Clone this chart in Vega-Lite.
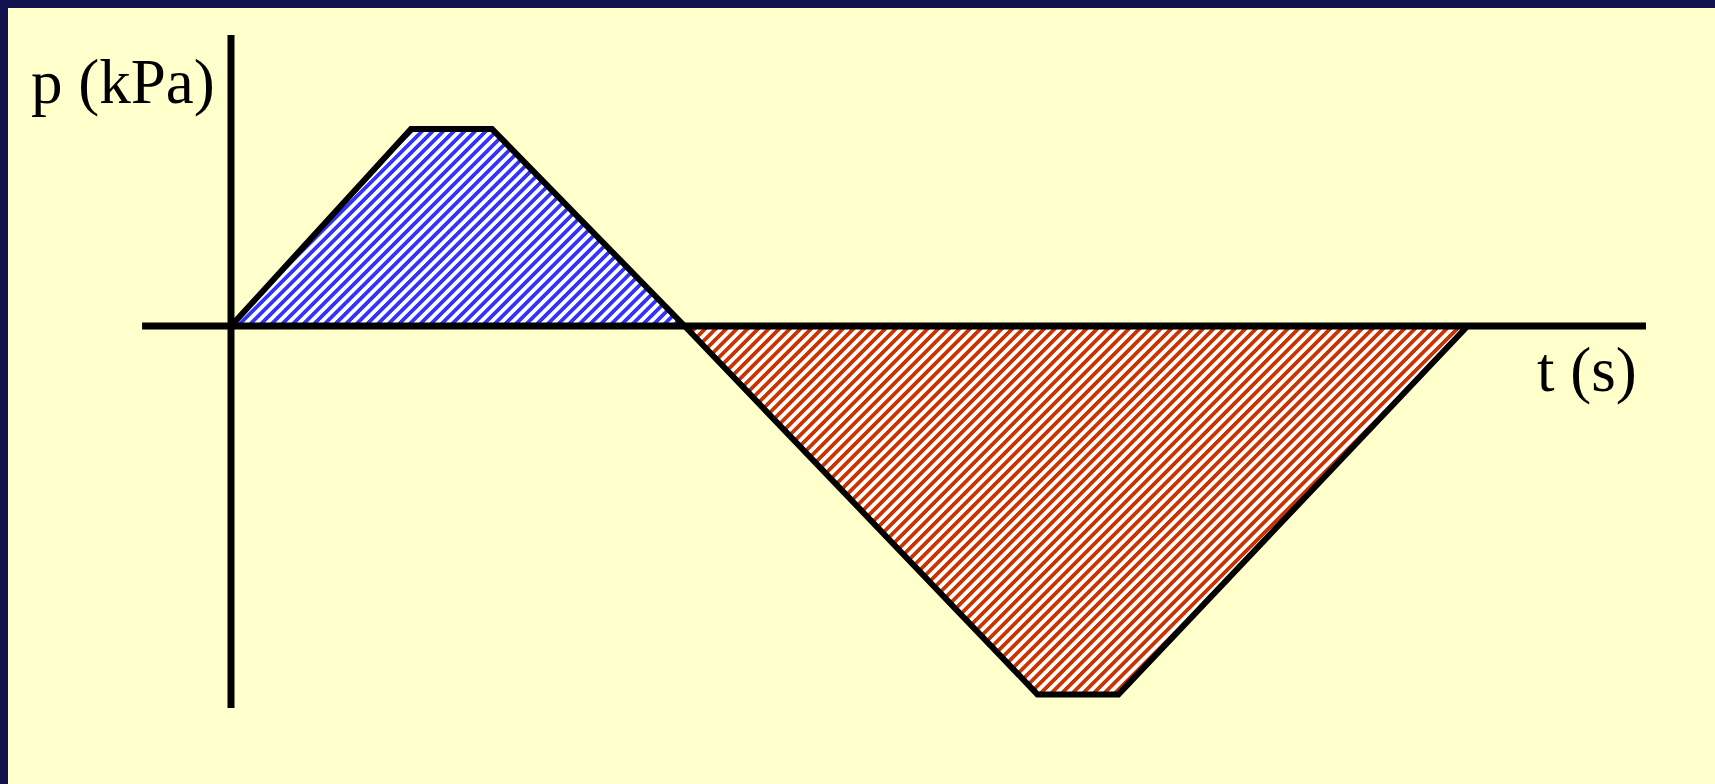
{
  "$schema": "https://vega.github.io/schema/vega-lite/v6.json",
  "autosize": {"type": "fit", "contains": "padding"},
  "width": 1715,
  "height": 784,
  "padding": {"left": 8, "top": 8, "right": 0, "bottom": 0},
  "background": "#12124f",
  "config": {"view": {"stroke": null, "fill": "#ffffcc"}},
  "datasets": {
    "blue": [
      {"t": 0, "p": 0}, {"t": 1, "p": 100}, {"t": 1.45, "p": 100}, {"t": 2.52, "p": 0}
    ],
    "red": [
      {"t": 2.52, "p": 0}, {"t": 4.48, "p": -187}, {"t": 4.93, "p": -187}, {"t": 6.87, "p": 0}
    ],
    "outline": [
      {"t": 0, "p": 0}, {"t": 1, "p": 100}, {"t": 1.45, "p": 100}, {"t": 2.52, "p": 0},
      {"t": 4.48, "p": -187}, {"t": 4.93, "p": -187}, {"t": 6.87, "p": 0}
    ],
    "axes": [
      {"t1": 0, "t2": 0, "p1": 147.7, "p2": -193.9},
      {"t1": -0.494, "t2": 7.861, "p1": 0, "p2": 0}
    ],
    "labels": [
      {"t": -1.111, "p": 113.2, "label": "p (kPa)"},
      {"t": 7.256, "p": -33, "label": "t (s)"}
    ]
  },
  "encoding": {
    "x": {"field": "t", "type": "quantitative", "scale": {"domain": [-1.2389, 8.2444], "nice": false, "zero": false}, "axis": null},
    "y": {"field": "p", "type": "quantitative", "scale": {"domain": [-232.49, 161.42], "nice": false, "zero": false}, "axis": null}
  },
  "layer": [
    {
      "data": {"name": "blue"},
      "mark": {"type": "area", "strokeWidth": 0, "fill": {"gradient": "linear", "x1": 0, "y1": 0, "x2": 3.9381, "y2": 1.7126, "stops": [
{"offset":0,"color":"#33f"},{"offset":0.002,"color":"#33f"},{"offset":0.0025,"color":"#fff"},{"offset":0.0045,"color":"#fff"},{"offset":0.005,"color":"#33f"},{"offset":0.007,"color":"#33f"},{"offset":0.0075,"color":"#fff"},{"offset":0.0095,"color":"#fff"},
{"offset":0.01,"color":"#33f"},{"offset":0.012,"color":"#33f"},{"offset":0.0125,"color":"#fff"},{"offset":0.0145,"color":"#fff"},{"offset":0.015,"color":"#33f"},{"offset":0.017,"color":"#33f"},{"offset":0.0175,"color":"#fff"},{"offset":0.0195,"color":"#fff"},
{"offset":0.02,"color":"#33f"},{"offset":0.022,"color":"#33f"},{"offset":0.0225,"color":"#fff"},{"offset":0.0245,"color":"#fff"},{"offset":0.025,"color":"#33f"},{"offset":0.027,"color":"#33f"},{"offset":0.0275,"color":"#fff"},{"offset":0.0295,"color":"#fff"},
{"offset":0.03,"color":"#33f"},{"offset":0.032,"color":"#33f"},{"offset":0.0325,"color":"#fff"},{"offset":0.0345,"color":"#fff"},{"offset":0.035,"color":"#33f"},{"offset":0.037,"color":"#33f"},{"offset":0.0375,"color":"#fff"},{"offset":0.0395,"color":"#fff"},
{"offset":0.04,"color":"#33f"},{"offset":0.042,"color":"#33f"},{"offset":0.0425,"color":"#fff"},{"offset":0.0445,"color":"#fff"},{"offset":0.045,"color":"#33f"},{"offset":0.047,"color":"#33f"},{"offset":0.0475,"color":"#fff"},{"offset":0.0495,"color":"#fff"},
{"offset":0.05,"color":"#33f"},{"offset":0.052,"color":"#33f"},{"offset":0.0525,"color":"#fff"},{"offset":0.0545,"color":"#fff"},{"offset":0.055,"color":"#33f"},{"offset":0.057,"color":"#33f"},{"offset":0.0575,"color":"#fff"},{"offset":0.0595,"color":"#fff"},
{"offset":0.06,"color":"#33f"},{"offset":0.062,"color":"#33f"},{"offset":0.0625,"color":"#fff"},{"offset":0.0645,"color":"#fff"},{"offset":0.065,"color":"#33f"},{"offset":0.067,"color":"#33f"},{"offset":0.0675,"color":"#fff"},{"offset":0.0695,"color":"#fff"},
{"offset":0.07,"color":"#33f"},{"offset":0.072,"color":"#33f"},{"offset":0.0725,"color":"#fff"},{"offset":0.0745,"color":"#fff"},{"offset":0.075,"color":"#33f"},{"offset":0.077,"color":"#33f"},{"offset":0.0775,"color":"#fff"},{"offset":0.0795,"color":"#fff"},
{"offset":0.08,"color":"#33f"},{"offset":0.082,"color":"#33f"},{"offset":0.0825,"color":"#fff"},{"offset":0.0845,"color":"#fff"},{"offset":0.085,"color":"#33f"},{"offset":0.087,"color":"#33f"},{"offset":0.0875,"color":"#fff"},{"offset":0.0895,"color":"#fff"},
{"offset":0.09,"color":"#33f"},{"offset":0.092,"color":"#33f"},{"offset":0.0925,"color":"#fff"},{"offset":0.0945,"color":"#fff"},{"offset":0.095,"color":"#33f"},{"offset":0.097,"color":"#33f"},{"offset":0.0975,"color":"#fff"},{"offset":0.0995,"color":"#fff"},
{"offset":0.1,"color":"#33f"},{"offset":0.102,"color":"#33f"},{"offset":0.1025,"color":"#fff"},{"offset":0.1045,"color":"#fff"},{"offset":0.105,"color":"#33f"},{"offset":0.107,"color":"#33f"},{"offset":0.1075,"color":"#fff"},{"offset":0.1095,"color":"#fff"},
{"offset":0.11,"color":"#33f"},{"offset":0.112,"color":"#33f"},{"offset":0.1125,"color":"#fff"},{"offset":0.1145,"color":"#fff"},{"offset":0.115,"color":"#33f"},{"offset":0.117,"color":"#33f"},{"offset":0.1175,"color":"#fff"},{"offset":0.1195,"color":"#fff"},
{"offset":0.12,"color":"#33f"},{"offset":0.122,"color":"#33f"},{"offset":0.1225,"color":"#fff"},{"offset":0.1245,"color":"#fff"},{"offset":0.125,"color":"#33f"},{"offset":0.127,"color":"#33f"},{"offset":0.1275,"color":"#fff"},{"offset":0.1295,"color":"#fff"},
{"offset":0.13,"color":"#33f"},{"offset":0.132,"color":"#33f"},{"offset":0.1325,"color":"#fff"},{"offset":0.1345,"color":"#fff"},{"offset":0.135,"color":"#33f"},{"offset":0.137,"color":"#33f"},{"offset":0.1375,"color":"#fff"},{"offset":0.1395,"color":"#fff"},
{"offset":0.14,"color":"#33f"},{"offset":0.142,"color":"#33f"},{"offset":0.1425,"color":"#fff"},{"offset":0.1445,"color":"#fff"},{"offset":0.145,"color":"#33f"},{"offset":0.147,"color":"#33f"},{"offset":0.1475,"color":"#fff"},{"offset":0.1495,"color":"#fff"},
{"offset":0.15,"color":"#33f"},{"offset":0.152,"color":"#33f"},{"offset":0.1525,"color":"#fff"},{"offset":0.1545,"color":"#fff"},{"offset":0.155,"color":"#33f"},{"offset":0.157,"color":"#33f"},{"offset":0.1575,"color":"#fff"},{"offset":0.1595,"color":"#fff"},
{"offset":0.16,"color":"#33f"},{"offset":0.162,"color":"#33f"},{"offset":0.1625,"color":"#fff"},{"offset":0.1645,"color":"#fff"},{"offset":0.165,"color":"#33f"},{"offset":0.167,"color":"#33f"},{"offset":0.1675,"color":"#fff"},{"offset":0.1695,"color":"#fff"},
{"offset":0.17,"color":"#33f"},{"offset":0.172,"color":"#33f"},{"offset":0.1725,"color":"#fff"},{"offset":0.1745,"color":"#fff"},{"offset":0.175,"color":"#33f"},{"offset":0.177,"color":"#33f"},{"offset":0.1775,"color":"#fff"},{"offset":0.1795,"color":"#fff"},
{"offset":0.18,"color":"#33f"},{"offset":0.182,"color":"#33f"},{"offset":0.1825,"color":"#fff"},{"offset":0.1845,"color":"#fff"},{"offset":0.185,"color":"#33f"},{"offset":0.187,"color":"#33f"},{"offset":0.1875,"color":"#fff"},{"offset":0.1895,"color":"#fff"},
{"offset":0.19,"color":"#33f"},{"offset":0.192,"color":"#33f"},{"offset":0.1925,"color":"#fff"},{"offset":0.1945,"color":"#fff"},{"offset":0.195,"color":"#33f"},{"offset":0.197,"color":"#33f"},{"offset":0.1975,"color":"#fff"},{"offset":0.1995,"color":"#fff"},
{"offset":0.2,"color":"#33f"},{"offset":0.202,"color":"#33f"},{"offset":0.2025,"color":"#fff"},{"offset":0.2045,"color":"#fff"},{"offset":0.205,"color":"#33f"},{"offset":0.207,"color":"#33f"},{"offset":0.2075,"color":"#fff"},{"offset":0.2095,"color":"#fff"},
{"offset":0.21,"color":"#33f"},{"offset":0.212,"color":"#33f"},{"offset":0.2125,"color":"#fff"},{"offset":0.2145,"color":"#fff"},{"offset":0.215,"color":"#33f"},{"offset":0.217,"color":"#33f"},{"offset":0.2175,"color":"#fff"},{"offset":0.2195,"color":"#fff"},
{"offset":0.22,"color":"#33f"},{"offset":0.222,"color":"#33f"},{"offset":0.2225,"color":"#fff"},{"offset":0.2245,"color":"#fff"},{"offset":0.225,"color":"#33f"},{"offset":0.227,"color":"#33f"},{"offset":0.2275,"color":"#fff"},{"offset":0.2295,"color":"#fff"},
{"offset":0.23,"color":"#33f"},{"offset":0.232,"color":"#33f"},{"offset":0.2325,"color":"#fff"},{"offset":0.2345,"color":"#fff"},{"offset":0.235,"color":"#33f"},{"offset":0.237,"color":"#33f"},{"offset":0.2375,"color":"#fff"},{"offset":0.2395,"color":"#fff"},
{"offset":0.24,"color":"#33f"},{"offset":0.242,"color":"#33f"},{"offset":0.2425,"color":"#fff"},{"offset":0.2445,"color":"#fff"},{"offset":0.245,"color":"#33f"},{"offset":0.247,"color":"#33f"},{"offset":0.2475,"color":"#fff"},{"offset":0.2495,"color":"#fff"},
{"offset":0.25,"color":"#33f"},{"offset":0.252,"color":"#33f"},{"offset":0.2525,"color":"#fff"},{"offset":0.2545,"color":"#fff"},{"offset":0.255,"color":"#33f"},{"offset":0.257,"color":"#33f"},{"offset":0.2575,"color":"#fff"},{"offset":0.2595,"color":"#fff"},
{"offset":0.26,"color":"#33f"},{"offset":0.262,"color":"#33f"},{"offset":0.2625,"color":"#fff"},{"offset":0.2645,"color":"#fff"},{"offset":0.265,"color":"#33f"},{"offset":0.267,"color":"#33f"},{"offset":0.2675,"color":"#fff"},{"offset":0.2695,"color":"#fff"},
{"offset":0.27,"color":"#33f"},{"offset":0.272,"color":"#33f"},{"offset":0.2725,"color":"#fff"},{"offset":0.2745,"color":"#fff"},{"offset":0.275,"color":"#33f"},{"offset":0.277,"color":"#33f"},{"offset":0.2775,"color":"#fff"},{"offset":0.2795,"color":"#fff"},
{"offset":0.28,"color":"#33f"},{"offset":0.282,"color":"#33f"},{"offset":0.2825,"color":"#fff"},{"offset":0.2845,"color":"#fff"},{"offset":0.285,"color":"#33f"},{"offset":0.287,"color":"#33f"},{"offset":0.2875,"color":"#fff"},{"offset":0.2895,"color":"#fff"},
{"offset":0.29,"color":"#33f"},{"offset":0.292,"color":"#33f"},{"offset":0.2925,"color":"#fff"},{"offset":0.2945,"color":"#fff"},{"offset":0.295,"color":"#33f"},{"offset":0.297,"color":"#33f"},{"offset":0.2975,"color":"#fff"},{"offset":0.2995,"color":"#fff"},
{"offset":0.3,"color":"#33f"},{"offset":0.302,"color":"#33f"},{"offset":0.3025,"color":"#fff"},{"offset":0.3045,"color":"#fff"},{"offset":0.305,"color":"#33f"},{"offset":0.307,"color":"#33f"},{"offset":0.3075,"color":"#fff"},{"offset":0.3095,"color":"#fff"},
{"offset":0.31,"color":"#33f"}
      ]}},
      "encoding": {"y2": {"datum": 0}}
    },
    {
      "data": {"name": "red"},
      "mark": {"type": "area", "strokeWidth": 0, "fill": {"gradient": "linear", "x1": 0, "y1": 0, "x2": 2.2172, "y2": 1.0407, "stops": [
{"offset":0,"color":"#c30"},{"offset":0.002,"color":"#c30"},{"offset":0.0025,"color":"#fff"},{"offset":0.0045,"color":"#fff"},{"offset":0.005,"color":"#c30"},{"offset":0.007,"color":"#c30"},{"offset":0.0075,"color":"#fff"},{"offset":0.0095,"color":"#fff"},
{"offset":0.01,"color":"#c30"},{"offset":0.012,"color":"#c30"},{"offset":0.0125,"color":"#fff"},{"offset":0.0145,"color":"#fff"},{"offset":0.015,"color":"#c30"},{"offset":0.017,"color":"#c30"},{"offset":0.0175,"color":"#fff"},{"offset":0.0195,"color":"#fff"},
{"offset":0.02,"color":"#c30"},{"offset":0.022,"color":"#c30"},{"offset":0.0225,"color":"#fff"},{"offset":0.0245,"color":"#fff"},{"offset":0.025,"color":"#c30"},{"offset":0.027,"color":"#c30"},{"offset":0.0275,"color":"#fff"},{"offset":0.0295,"color":"#fff"},
{"offset":0.03,"color":"#c30"},{"offset":0.032,"color":"#c30"},{"offset":0.0325,"color":"#fff"},{"offset":0.0345,"color":"#fff"},{"offset":0.035,"color":"#c30"},{"offset":0.037,"color":"#c30"},{"offset":0.0375,"color":"#fff"},{"offset":0.0395,"color":"#fff"},
{"offset":0.04,"color":"#c30"},{"offset":0.042,"color":"#c30"},{"offset":0.0425,"color":"#fff"},{"offset":0.0445,"color":"#fff"},{"offset":0.045,"color":"#c30"},{"offset":0.047,"color":"#c30"},{"offset":0.0475,"color":"#fff"},{"offset":0.0495,"color":"#fff"},
{"offset":0.05,"color":"#c30"},{"offset":0.052,"color":"#c30"},{"offset":0.0525,"color":"#fff"},{"offset":0.0545,"color":"#fff"},{"offset":0.055,"color":"#c30"},{"offset":0.057,"color":"#c30"},{"offset":0.0575,"color":"#fff"},{"offset":0.0595,"color":"#fff"},
{"offset":0.06,"color":"#c30"},{"offset":0.062,"color":"#c30"},{"offset":0.0625,"color":"#fff"},{"offset":0.0645,"color":"#fff"},{"offset":0.065,"color":"#c30"},{"offset":0.067,"color":"#c30"},{"offset":0.0675,"color":"#fff"},{"offset":0.0695,"color":"#fff"},
{"offset":0.07,"color":"#c30"},{"offset":0.072,"color":"#c30"},{"offset":0.0725,"color":"#fff"},{"offset":0.0745,"color":"#fff"},{"offset":0.075,"color":"#c30"},{"offset":0.077,"color":"#c30"},{"offset":0.0775,"color":"#fff"},{"offset":0.0795,"color":"#fff"},
{"offset":0.08,"color":"#c30"},{"offset":0.082,"color":"#c30"},{"offset":0.0825,"color":"#fff"},{"offset":0.0845,"color":"#fff"},{"offset":0.085,"color":"#c30"},{"offset":0.087,"color":"#c30"},{"offset":0.0875,"color":"#fff"},{"offset":0.0895,"color":"#fff"},
{"offset":0.09,"color":"#c30"},{"offset":0.092,"color":"#c30"},{"offset":0.0925,"color":"#fff"},{"offset":0.0945,"color":"#fff"},{"offset":0.095,"color":"#c30"},{"offset":0.097,"color":"#c30"},{"offset":0.0975,"color":"#fff"},{"offset":0.0995,"color":"#fff"},
{"offset":0.1,"color":"#c30"},{"offset":0.102,"color":"#c30"},{"offset":0.1025,"color":"#fff"},{"offset":0.1045,"color":"#fff"},{"offset":0.105,"color":"#c30"},{"offset":0.107,"color":"#c30"},{"offset":0.1075,"color":"#fff"},{"offset":0.1095,"color":"#fff"},
{"offset":0.11,"color":"#c30"},{"offset":0.112,"color":"#c30"},{"offset":0.1125,"color":"#fff"},{"offset":0.1145,"color":"#fff"},{"offset":0.115,"color":"#c30"},{"offset":0.117,"color":"#c30"},{"offset":0.1175,"color":"#fff"},{"offset":0.1195,"color":"#fff"},
{"offset":0.12,"color":"#c30"},{"offset":0.122,"color":"#c30"},{"offset":0.1225,"color":"#fff"},{"offset":0.1245,"color":"#fff"},{"offset":0.125,"color":"#c30"},{"offset":0.127,"color":"#c30"},{"offset":0.1275,"color":"#fff"},{"offset":0.1295,"color":"#fff"},
{"offset":0.13,"color":"#c30"},{"offset":0.132,"color":"#c30"},{"offset":0.1325,"color":"#fff"},{"offset":0.1345,"color":"#fff"},{"offset":0.135,"color":"#c30"},{"offset":0.137,"color":"#c30"},{"offset":0.1375,"color":"#fff"},{"offset":0.1395,"color":"#fff"},
{"offset":0.14,"color":"#c30"},{"offset":0.142,"color":"#c30"},{"offset":0.1425,"color":"#fff"},{"offset":0.1445,"color":"#fff"},{"offset":0.145,"color":"#c30"},{"offset":0.147,"color":"#c30"},{"offset":0.1475,"color":"#fff"},{"offset":0.1495,"color":"#fff"},
{"offset":0.15,"color":"#c30"},{"offset":0.152,"color":"#c30"},{"offset":0.1525,"color":"#fff"},{"offset":0.1545,"color":"#fff"},{"offset":0.155,"color":"#c30"},{"offset":0.157,"color":"#c30"},{"offset":0.1575,"color":"#fff"},{"offset":0.1595,"color":"#fff"},
{"offset":0.16,"color":"#c30"},{"offset":0.162,"color":"#c30"},{"offset":0.1625,"color":"#fff"},{"offset":0.1645,"color":"#fff"},{"offset":0.165,"color":"#c30"},{"offset":0.167,"color":"#c30"},{"offset":0.1675,"color":"#fff"},{"offset":0.1695,"color":"#fff"},
{"offset":0.17,"color":"#c30"},{"offset":0.172,"color":"#c30"},{"offset":0.1725,"color":"#fff"},{"offset":0.1745,"color":"#fff"},{"offset":0.175,"color":"#c30"},{"offset":0.177,"color":"#c30"},{"offset":0.1775,"color":"#fff"},{"offset":0.1795,"color":"#fff"},
{"offset":0.18,"color":"#c30"},{"offset":0.182,"color":"#c30"},{"offset":0.1825,"color":"#fff"},{"offset":0.1845,"color":"#fff"},{"offset":0.185,"color":"#c30"},{"offset":0.187,"color":"#c30"},{"offset":0.1875,"color":"#fff"},{"offset":0.1895,"color":"#fff"},
{"offset":0.19,"color":"#c30"},{"offset":0.192,"color":"#c30"},{"offset":0.1925,"color":"#fff"},{"offset":0.1945,"color":"#fff"},{"offset":0.195,"color":"#c30"},{"offset":0.197,"color":"#c30"},{"offset":0.1975,"color":"#fff"},{"offset":0.1995,"color":"#fff"},
{"offset":0.2,"color":"#c30"},{"offset":0.202,"color":"#c30"},{"offset":0.2025,"color":"#fff"},{"offset":0.2045,"color":"#fff"},{"offset":0.205,"color":"#c30"},{"offset":0.207,"color":"#c30"},{"offset":0.2075,"color":"#fff"},{"offset":0.2095,"color":"#fff"},
{"offset":0.21,"color":"#c30"},{"offset":0.212,"color":"#c30"},{"offset":0.2125,"color":"#fff"},{"offset":0.2145,"color":"#fff"},{"offset":0.215,"color":"#c30"},{"offset":0.217,"color":"#c30"},{"offset":0.2175,"color":"#fff"},{"offset":0.2195,"color":"#fff"},
{"offset":0.22,"color":"#c30"},{"offset":0.222,"color":"#c30"},{"offset":0.2225,"color":"#fff"},{"offset":0.2245,"color":"#fff"},{"offset":0.225,"color":"#c30"},{"offset":0.227,"color":"#c30"},{"offset":0.2275,"color":"#fff"},{"offset":0.2295,"color":"#fff"},
{"offset":0.23,"color":"#c30"},{"offset":0.232,"color":"#c30"},{"offset":0.2325,"color":"#fff"},{"offset":0.2345,"color":"#fff"},{"offset":0.235,"color":"#c30"},{"offset":0.237,"color":"#c30"},{"offset":0.2375,"color":"#fff"},{"offset":0.2395,"color":"#fff"},
{"offset":0.24,"color":"#c30"},{"offset":0.242,"color":"#c30"},{"offset":0.2425,"color":"#fff"},{"offset":0.2445,"color":"#fff"},{"offset":0.245,"color":"#c30"},{"offset":0.247,"color":"#c30"},{"offset":0.2475,"color":"#fff"},{"offset":0.2495,"color":"#fff"},
{"offset":0.25,"color":"#c30"},{"offset":0.252,"color":"#c30"},{"offset":0.2525,"color":"#fff"},{"offset":0.2545,"color":"#fff"},{"offset":0.255,"color":"#c30"},{"offset":0.257,"color":"#c30"},{"offset":0.2575,"color":"#fff"},{"offset":0.2595,"color":"#fff"},
{"offset":0.26,"color":"#c30"},{"offset":0.262,"color":"#c30"},{"offset":0.2625,"color":"#fff"},{"offset":0.2645,"color":"#fff"},{"offset":0.265,"color":"#c30"},{"offset":0.267,"color":"#c30"},{"offset":0.2675,"color":"#fff"},{"offset":0.2695,"color":"#fff"},
{"offset":0.27,"color":"#c30"},{"offset":0.272,"color":"#c30"},{"offset":0.2725,"color":"#fff"},{"offset":0.2745,"color":"#fff"},{"offset":0.275,"color":"#c30"},{"offset":0.277,"color":"#c30"},{"offset":0.2775,"color":"#fff"},{"offset":0.2795,"color":"#fff"},
{"offset":0.28,"color":"#c30"},{"offset":0.282,"color":"#c30"},{"offset":0.2825,"color":"#fff"},{"offset":0.2845,"color":"#fff"},{"offset":0.285,"color":"#c30"},{"offset":0.287,"color":"#c30"},{"offset":0.2875,"color":"#fff"},{"offset":0.2895,"color":"#fff"},
{"offset":0.29,"color":"#c30"},{"offset":0.292,"color":"#c30"},{"offset":0.2925,"color":"#fff"},{"offset":0.2945,"color":"#fff"},{"offset":0.295,"color":"#c30"},{"offset":0.297,"color":"#c30"},{"offset":0.2975,"color":"#fff"},{"offset":0.2995,"color":"#fff"},
{"offset":0.3,"color":"#c30"},{"offset":0.302,"color":"#c30"},{"offset":0.3025,"color":"#fff"},{"offset":0.3045,"color":"#fff"},{"offset":0.305,"color":"#c30"},{"offset":0.307,"color":"#c30"},{"offset":0.3075,"color":"#fff"},{"offset":0.3095,"color":"#fff"},
{"offset":0.31,"color":"#c30"},{"offset":0.312,"color":"#c30"},{"offset":0.3125,"color":"#fff"},{"offset":0.3145,"color":"#fff"},{"offset":0.315,"color":"#c30"},{"offset":0.317,"color":"#c30"},{"offset":0.3175,"color":"#fff"},{"offset":0.3195,"color":"#fff"},
{"offset":0.32,"color":"#c30"},{"offset":0.322,"color":"#c30"},{"offset":0.3225,"color":"#fff"},{"offset":0.3245,"color":"#fff"},{"offset":0.325,"color":"#c30"},{"offset":0.327,"color":"#c30"},{"offset":0.3275,"color":"#fff"},{"offset":0.3295,"color":"#fff"},
{"offset":0.33,"color":"#c30"},{"offset":0.332,"color":"#c30"},{"offset":0.3325,"color":"#fff"},{"offset":0.3345,"color":"#fff"},{"offset":0.335,"color":"#c30"},{"offset":0.337,"color":"#c30"},{"offset":0.3375,"color":"#fff"},{"offset":0.3395,"color":"#fff"},
{"offset":0.34,"color":"#c30"},{"offset":0.342,"color":"#c30"},{"offset":0.3425,"color":"#fff"},{"offset":0.3445,"color":"#fff"},{"offset":0.345,"color":"#c30"},{"offset":0.347,"color":"#c30"},{"offset":0.3475,"color":"#fff"},{"offset":0.3495,"color":"#fff"},
{"offset":0.35,"color":"#c30"},{"offset":0.352,"color":"#c30"},{"offset":0.3525,"color":"#fff"},{"offset":0.3545,"color":"#fff"},{"offset":0.355,"color":"#c30"},{"offset":0.357,"color":"#c30"},{"offset":0.3575,"color":"#fff"},{"offset":0.3595,"color":"#fff"},
{"offset":0.36,"color":"#c30"},{"offset":0.362,"color":"#c30"},{"offset":0.3625,"color":"#fff"},{"offset":0.3645,"color":"#fff"},{"offset":0.365,"color":"#c30"},{"offset":0.367,"color":"#c30"},{"offset":0.3675,"color":"#fff"},{"offset":0.3695,"color":"#fff"},
{"offset":0.37,"color":"#c30"},{"offset":0.372,"color":"#c30"},{"offset":0.3725,"color":"#fff"},{"offset":0.3745,"color":"#fff"},{"offset":0.375,"color":"#c30"},{"offset":0.377,"color":"#c30"},{"offset":0.3775,"color":"#fff"},{"offset":0.3795,"color":"#fff"},
{"offset":0.38,"color":"#c30"},{"offset":0.382,"color":"#c30"},{"offset":0.3825,"color":"#fff"},{"offset":0.3845,"color":"#fff"},{"offset":0.385,"color":"#c30"},{"offset":0.387,"color":"#c30"},{"offset":0.3875,"color":"#fff"},{"offset":0.3895,"color":"#fff"},
{"offset":0.39,"color":"#c30"},{"offset":0.392,"color":"#c30"},{"offset":0.3925,"color":"#fff"},{"offset":0.3945,"color":"#fff"},{"offset":0.395,"color":"#c30"},{"offset":0.397,"color":"#c30"},{"offset":0.3975,"color":"#fff"},{"offset":0.3995,"color":"#fff"},
{"offset":0.4,"color":"#c30"},{"offset":0.402,"color":"#c30"},{"offset":0.4025,"color":"#fff"},{"offset":0.4045,"color":"#fff"},{"offset":0.405,"color":"#c30"},{"offset":0.407,"color":"#c30"},{"offset":0.4075,"color":"#fff"},{"offset":0.4095,"color":"#fff"},
{"offset":0.41,"color":"#c30"},{"offset":0.412,"color":"#c30"},{"offset":0.4125,"color":"#fff"},{"offset":0.4145,"color":"#fff"},{"offset":0.415,"color":"#c30"},{"offset":0.417,"color":"#c30"},{"offset":0.4175,"color":"#fff"},{"offset":0.4195,"color":"#fff"},
{"offset":0.42,"color":"#c30"},{"offset":0.422,"color":"#c30"},{"offset":0.4225,"color":"#fff"},{"offset":0.4245,"color":"#fff"},{"offset":0.425,"color":"#c30"},{"offset":0.427,"color":"#c30"},{"offset":0.4275,"color":"#fff"},{"offset":0.4295,"color":"#fff"},
{"offset":0.43,"color":"#c30"},{"offset":0.432,"color":"#c30"},{"offset":0.4325,"color":"#fff"},{"offset":0.4345,"color":"#fff"},{"offset":0.435,"color":"#c30"},{"offset":0.437,"color":"#c30"},{"offset":0.4375,"color":"#fff"},{"offset":0.4395,"color":"#fff"},
{"offset":0.44,"color":"#c30"},{"offset":0.442,"color":"#c30"},{"offset":0.4425,"color":"#fff"},{"offset":0.4445,"color":"#fff"},{"offset":0.445,"color":"#c30"},{"offset":0.447,"color":"#c30"},{"offset":0.4475,"color":"#fff"},{"offset":0.4495,"color":"#fff"},
{"offset":0.45,"color":"#c30"},{"offset":0.452,"color":"#c30"},{"offset":0.4525,"color":"#fff"},{"offset":0.4545,"color":"#fff"},{"offset":0.455,"color":"#c30"},{"offset":0.457,"color":"#c30"},{"offset":0.4575,"color":"#fff"},{"offset":0.4595,"color":"#fff"},
{"offset":0.46,"color":"#c30"},{"offset":0.462,"color":"#c30"},{"offset":0.4625,"color":"#fff"},{"offset":0.4645,"color":"#fff"},{"offset":0.465,"color":"#c30"},{"offset":0.467,"color":"#c30"},{"offset":0.4675,"color":"#fff"},{"offset":0.4695,"color":"#fff"},
{"offset":0.47,"color":"#c30"},{"offset":0.472,"color":"#c30"},{"offset":0.4725,"color":"#fff"},{"offset":0.4745,"color":"#fff"},{"offset":0.475,"color":"#c30"},{"offset":0.477,"color":"#c30"},{"offset":0.4775,"color":"#fff"},{"offset":0.4795,"color":"#fff"},
{"offset":0.48,"color":"#c30"},{"offset":0.482,"color":"#c30"},{"offset":0.4825,"color":"#fff"},{"offset":0.4845,"color":"#fff"},{"offset":0.485,"color":"#c30"},{"offset":0.487,"color":"#c30"},{"offset":0.4875,"color":"#fff"},{"offset":0.4895,"color":"#fff"},
{"offset":0.49,"color":"#c30"},{"offset":0.492,"color":"#c30"},{"offset":0.4925,"color":"#fff"},{"offset":0.4945,"color":"#fff"},{"offset":0.495,"color":"#c30"},{"offset":0.497,"color":"#c30"},{"offset":0.4975,"color":"#fff"},{"offset":0.4995,"color":"#fff"},
{"offset":0.5,"color":"#c30"},{"offset":0.502,"color":"#c30"},{"offset":0.5025,"color":"#fff"},{"offset":0.5045,"color":"#fff"},{"offset":0.505,"color":"#c30"},{"offset":0.507,"color":"#c30"},{"offset":0.5075,"color":"#fff"},{"offset":0.5095,"color":"#fff"},
{"offset":0.51,"color":"#c30"},{"offset":0.512,"color":"#c30"},{"offset":0.5125,"color":"#fff"},{"offset":0.5145,"color":"#fff"},{"offset":0.515,"color":"#c30"},{"offset":0.517,"color":"#c30"},{"offset":0.5175,"color":"#fff"},{"offset":0.5195,"color":"#fff"},
{"offset":0.52,"color":"#c30"},{"offset":0.522,"color":"#c30"},{"offset":0.5225,"color":"#fff"},{"offset":0.5245,"color":"#fff"},{"offset":0.525,"color":"#c30"},{"offset":0.527,"color":"#c30"},{"offset":0.5275,"color":"#fff"},{"offset":0.5295,"color":"#fff"},
{"offset":0.53,"color":"#c30"},{"offset":0.532,"color":"#c30"},{"offset":0.5325,"color":"#fff"},{"offset":0.5345,"color":"#fff"},{"offset":0.535,"color":"#c30"},{"offset":0.537,"color":"#c30"},{"offset":0.5375,"color":"#fff"},{"offset":0.5395,"color":"#fff"},
{"offset":0.54,"color":"#c30"},{"offset":0.542,"color":"#c30"},{"offset":0.5425,"color":"#fff"},{"offset":0.5445,"color":"#fff"},{"offset":0.545,"color":"#c30"},{"offset":0.547,"color":"#c30"},{"offset":0.5475,"color":"#fff"},{"offset":0.5495,"color":"#fff"},
{"offset":0.55,"color":"#c30"}
      ]}},
      "encoding": {"y2": {"datum": 0}}
    },
    {
      "data": {"name": "axes"},
      "mark": {"type": "rule", "color": "#000", "strokeWidth": 7, "strokeCap": "butt"},
      "encoding": {
        "x": {"field": "t1", "type": "quantitative"},
        "x2": {"field": "t2"},
        "y": {"field": "p1", "type": "quantitative"},
        "y2": {"field": "p2"}
      }
    },
    {
      "data": {"name": "outline"},
      "mark": {"type": "line", "color": "#000", "strokeWidth": 6, "strokeJoin": "miter", "strokeCap": "butt"},
      "encoding": {}
    },
    {
      "data": {"name": "labels"},
      "mark": {"type": "text", "font": "Liberation Serif", "fontSize": 63, "color": "#000", "align": "left", "baseline": "alphabetic"},
      "encoding": {"text": {"field": "label", "type": "nominal"}}
    }
  ]
}
